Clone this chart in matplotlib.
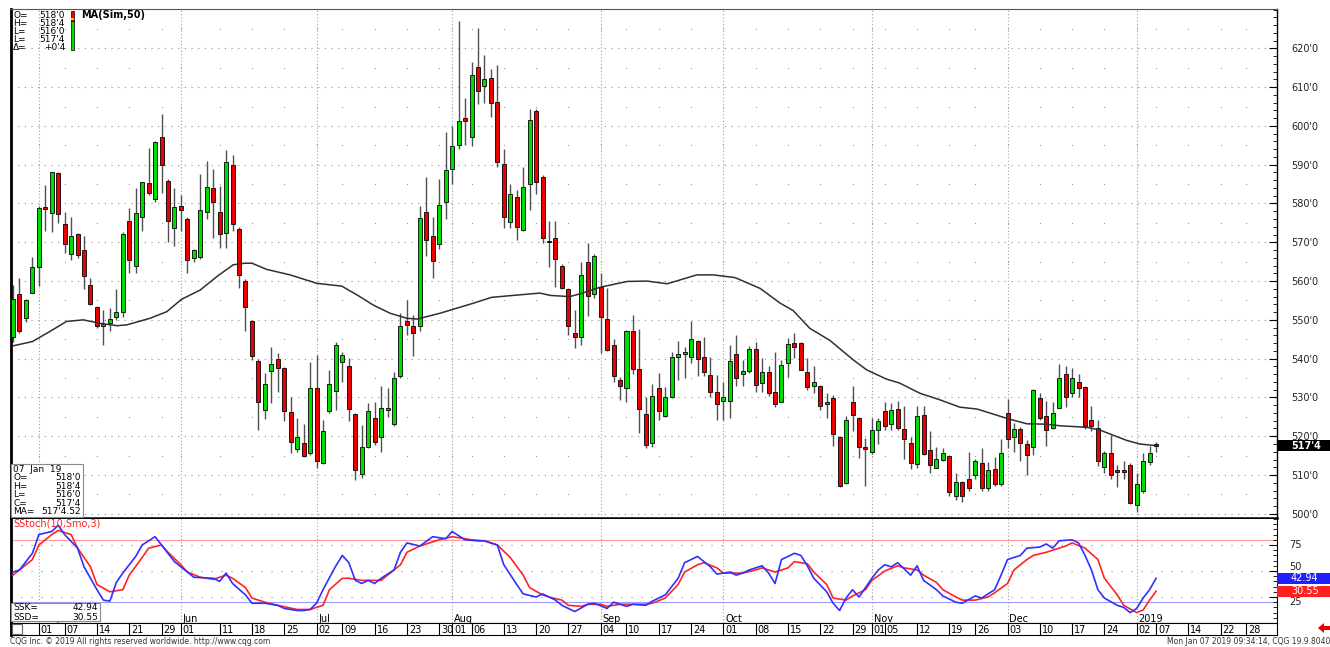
import matplotlib
matplotlib.use("Agg")
import matplotlib.pyplot as plt
from matplotlib.patches import Rectangle, Polygon
from matplotlib.transforms import blended_transform_factory

W, H = 1330, 647

# --- daily OHLC (Apr 25 2018 .. Jan 07 2019), cents/bu ---
opens = [545.7, 556.6, 550.4, 557.0, 563.6, 579.0, 577.6, 587.8, 574.6, 566.9,
         572.1, 568.0, 559.0, 553.2, 548.5, 549.1, 550.8, 552.0, 575.5, 563.9,
         576.4, 585.2, 581.1, 597.2, 585.9, 573.6, 579.4, 576.0, 566.0, 566.1,
         577.7, 583.9, 577.7, 572.3, 589.9, 573.4, 560.1, 549.6, 539.4, 526.8,
         536.7, 539.8, 537.5, 526.2, 516.6, 518.2, 515.6, 532.5, 513.1, 526.4,
         531.7, 539.2, 538.0, 525.7, 510.3, 517.3, 524.6, 519.7, 526.8, 523.1,
         535.4, 549.7, 548.4, 548.4, 577.9, 571.6, 569.5, 580.5, 588.8, 595.1,
         602.0, 597.2, 615.1, 610.2, 612.3, 606.1, 590.2, 575.1, 581.6, 573.2,
         585.0, 603.9, 586.9, 570.0, 571.0, 564.0, 557.9, 546.5, 545.7, 565.0,
         556.7, 558.6, 550.2, 543.4, 534.5, 532.5, 547.1, 537.4, 525.8, 518.2,
         532.5, 525.3, 530.0, 540.4, 541.1, 540.5, 544.6, 540.5, 535.8, 531.3,
         529.1, 529.1, 541.1, 536.0, 536.7, 542.5, 533.7, 536.5, 531.5, 528.9,
         538.8, 544.0, 544.0, 536.5, 532.9, 533.0, 528.3, 529.8, 519.7, 507.9,
         528.8, 524.7, 517.2, 515.9, 521.5, 526.6, 523.1, 527.0, 521.9, 518.2,
         512.8, 525.5, 516.5, 511.9, 513.9, 514.8, 504.5, 508.1, 508.9, 510.0,
         513.0, 506.6, 511.5, 507.7, 526.1, 519.7, 521.8, 518.0, 517.2, 529.8,
         525.1, 522.2, 527.4, 536.0, 531.1, 534.1, 532.8, 524.2, 522.1, 512.0,
         515.7, 511.2, 511.4, 512.5, 502.2, 506.0, 513.4, 518.0]
highs = [559.0, 560.9, 555.5, 566.3, 579.4, 584.8, 588.2, 588.0, 577.7, 576.4,
         572.5, 571.6, 560.7, 553.5, 552.5, 553.0, 557.9, 572.6, 578.9, 583.9,
         585.6, 594.4, 596.0, 603.0, 586.2, 583.9, 582.2, 576.6, 568.3, 587.5,
         591.0, 588.8, 584.5, 593.8, 592.5, 574.0, 560.5, 550.0, 539.8, 536.4,
         543.1, 541.4, 537.8, 530.0, 524.8, 523.1, 539.1, 540.9, 524.3, 537.1,
         544.4, 541.8, 540.1, 526.0, 522.9, 528.6, 528.9, 533.0, 532.5, 536.6,
         551.7, 555.1, 551.2, 579.4, 586.9, 576.6, 586.2, 598.5, 600.0, 627.0,
         607.1, 616.6, 625.2, 618.3, 614.8, 615.7, 594.0, 585.0, 583.5, 589.5,
         604.3, 604.3, 587.3, 575.4, 575.4, 564.3, 558.2, 552.5, 565.0, 569.9,
         566.9, 562.0, 558.3, 545.0, 535.2, 547.3, 551.3, 547.7, 530.0, 533.4,
         536.4, 532.8, 541.8, 544.6, 543.1, 549.6, 544.9, 545.7, 540.5, 535.8,
         534.1, 543.5, 546.1, 539.7, 543.3, 544.4, 540.1, 538.0, 541.6, 539.7,
         545.4, 546.6, 544.3, 540.1, 538.0, 533.3, 531.1, 530.7, 520.0, 525.1,
         533.0, 525.0, 519.5, 524.8, 524.7, 528.9, 528.6, 529.1, 527.7, 519.9,
         527.8, 527.7, 521.4, 517.2, 516.9, 515.2, 510.5, 508.5, 516.0, 514.1,
         517.0, 513.3, 514.6, 519.3, 529.5, 523.3, 522.3, 518.9, 532.1, 531.1,
         529.1, 528.9, 538.7, 538.0, 537.6, 536.0, 533.0, 527.8, 524.2, 516.1,
         520.4, 512.7, 513.7, 513.1, 510.6, 515.7, 517.4, 518.5]
lows = [544.4, 546.5, 549.5, 556.9, 558.8, 573.0, 572.6, 575.0, 567.2, 565.5,
        566.0, 557.9, 553.8, 548.0, 543.4, 547.0, 550.0, 550.8, 562.0, 562.0,
        573.0, 582.2, 580.5, 582.8, 570.0, 569.0, 573.0, 562.0, 565.0, 565.8,
        576.0, 571.2, 568.6, 568.4, 573.0, 558.2, 547.0, 539.7, 521.7, 524.4,
        528.5, 531.5, 524.0, 515.6, 516.0, 514.6, 515.2, 511.7, 512.8, 526.0,
        526.8, 533.9, 523.8, 508.7, 509.2, 516.9, 517.7, 516.0, 525.0, 522.6,
        535.0, 546.1, 540.7, 547.0, 566.5, 560.7, 568.2, 576.0, 585.0, 594.0,
        595.1, 594.7, 605.6, 606.0, 602.2, 589.5, 573.6, 573.6, 570.6, 573.0,
        578.3, 582.5, 569.7, 563.6, 558.6, 558.0, 546.1, 542.7, 543.5, 551.0,
        555.6, 541.4, 542.0, 533.9, 529.4, 528.9, 536.1, 520.8, 517.0, 517.3,
        524.2, 525.0, 529.8, 534.5, 535.0, 539.0, 535.5, 535.5, 530.0, 524.2,
        524.2, 524.8, 533.0, 533.0, 536.2, 531.3, 531.3, 530.4, 527.5, 528.7,
        535.2, 540.1, 537.0, 531.9, 531.1, 526.8, 524.8, 517.6, 507.0, 507.6,
        521.3, 514.4, 507.2, 515.3, 518.0, 521.6, 521.6, 521.6, 514.1, 511.5,
        511.8, 515.2, 510.4, 511.8, 513.5, 504.5, 503.5, 503.0, 505.8, 508.9,
        505.8, 505.8, 507.2, 507.2, 517.0, 516.0, 513.6, 510.0, 515.2, 524.2,
        517.5, 521.8, 527.3, 527.6, 530.0, 530.0, 521.8, 521.3, 512.2, 510.6,
        508.9, 506.9, 509.1, 502.6, 500.5, 505.4, 512.7, 516.0]
closes = [555.3, 547.0, 555.0, 563.6, 578.8, 578.6, 588.2, 577.2, 569.5, 571.6,
          566.6, 561.2, 554.0, 548.4, 549.0, 550.3, 552.1, 572.1, 565.4, 577.5,
          585.5, 582.8, 595.8, 589.8, 575.5, 579.2, 578.3, 565.4, 568.0, 578.3,
          584.2, 580.5, 572.1, 590.8, 574.7, 561.6, 553.4, 540.6, 528.8, 533.5,
          538.6, 537.5, 526.6, 518.6, 519.7, 515.0, 532.5, 513.5, 521.3, 533.4,
          543.5, 541.0, 527.0, 511.3, 517.3, 526.6, 518.6, 527.4, 527.2, 534.9,
          548.4, 548.7, 546.5, 576.2, 570.6, 565.2, 579.7, 588.6, 594.9, 601.3,
          601.3, 613.1, 609.0, 612.1, 606.0, 590.8, 576.4, 582.4, 574.0, 584.3,
          601.5, 585.6, 571.0, 570.2, 565.6, 558.3, 548.3, 545.7, 561.6, 556.2,
          566.5, 550.8, 542.2, 535.4, 533.0, 547.1, 537.3, 527.0, 517.8, 530.4,
          526.4, 530.0, 540.5, 541.1, 541.6, 545.1, 540.0, 536.5, 531.3, 528.3,
          530.0, 539.4, 535.0, 536.9, 542.4, 533.1, 536.5, 531.1, 528.3, 538.4,
          543.9, 543.1, 537.1, 532.8, 534.1, 527.9, 528.8, 520.6, 507.2, 524.3,
          525.4, 517.1, 516.7, 521.6, 523.8, 522.6, 526.8, 522.1, 519.2, 513.0,
          525.1, 515.4, 512.6, 514.1, 515.6, 505.5, 508.3, 504.5, 506.6, 513.5,
          506.6, 511.2, 507.7, 515.6, 519.2, 521.8, 518.2, 515.2, 531.9, 524.6,
          521.6, 526.1, 535.0, 530.1, 535.0, 532.4, 522.7, 522.7, 513.5, 515.7,
          510.0, 510.7, 510.8, 502.7, 507.8, 513.7, 515.7, 517.5]

# 50 day simple moving average, sampled along the bar index
ma_idx = [0, 3, 5.7, 8.3, 10.9, 13.5, 16.1, 17.6, 21.2, 23.8,
          26.1, 29, 31.6, 34.1, 35.9, 37, 39.3, 42.9, 47.1, 50.9,
          53.3, 55.8, 58.4, 61, 62.6, 66.1, 71.3, 74.1, 77.4, 81.6,
          83.2, 86.2, 87.8, 90.9, 95.1, 98.2, 101.3, 105.9, 108.4, 111.8,
          115.7, 118.8, 120.8, 123.4, 126.5, 130.1, 132.2, 135.3, 137.3, 140.4,
          143.5, 146.6, 149.3, 151.8, 153.9, 157, 160.1, 162.1, 166.3, 168.3,
          170.3, 172.5, 174.5, 177]
ma_val = [543.3, 544.4, 547.0, 549.6, 550.0, 549.1, 548.5, 548.7, 550.4, 552.1,
          555.3, 557.7, 561.2, 564.2, 564.6, 564.6, 563.0, 561.6, 559.4, 558.7,
          556.4, 553.8, 551.7, 550.4, 550.2, 551.7, 554.3, 555.8, 556.3, 556.9,
          556.3, 556.0, 556.7, 558.4, 559.9, 560.0, 559.3, 561.6, 561.6, 560.9,
          558.1, 554.3, 552.4, 547.8, 544.7, 539.7, 537.1, 534.7, 533.7, 531.1,
          529.4, 527.5, 527.0, 525.7, 524.6, 523.2, 523.1, 522.7, 522.3, 521.6,
          520.3, 518.9, 518.0, 517.56]

# smoothed stochastic (10, Smo, 3): SSK blue, SSD red
ssk_idx = [0, 1, 3, 4, 6, 7, 8, 10, 11, 13, 14, 15, 16, 17, 19, 20, 22, 23, 25, 27,
           28, 31, 32, 33, 34, 36, 37, 39, 41, 42, 44, 45, 46, 47, 48, 50, 51, 52, 53, 54,
           55, 56, 57, 59, 60, 61, 63, 65, 67, 68, 70, 72, 73, 75, 76, 78, 79, 81, 82, 84,
           85, 87, 89, 90, 92, 93, 95, 96, 98, 99, 101, 103, 104, 106, 107, 108, 109, 111, 112, 113,
           114, 116, 117, 118, 119, 121, 122, 123, 124, 126, 127, 128, 129, 130, 131, 133, 134, 135, 136, 137,
           139, 140, 141, 143, 144, 146, 147, 149, 150, 152, 153, 154, 156, 157, 159, 160, 161, 162, 164, 165,
           166, 167, 168, 169, 171, 172, 173, 174, 175, 176, 177]
ssk_val = [49, 51, 67, 85, 88, 94, 85, 72, 54, 32, 22, 21, 39, 48, 64, 75, 83, 75, 59, 49,
           44, 43, 40, 48, 38, 27, 19, 19, 17, 14, 12, 12, 13, 19, 32, 55, 65, 58, 41, 38,
           41, 38, 43, 51, 68, 77, 74, 83, 81, 88, 80, 79, 79, 75, 56, 37, 28, 25, 28, 22,
           17, 11, 18, 19, 14, 20, 16, 18, 17, 21, 27, 43, 58, 64, 59, 54, 47, 49, 46, 48,
           51, 55, 48, 38, 61, 67, 65, 55, 43, 30, 19, 12, 24, 32, 25, 43, 51, 56, 54, 58,
           46, 55, 41, 32, 26, 20, 19, 26, 24, 32, 46, 61, 65, 72, 73, 76, 72, 79, 80, 77,
           65, 51, 32, 24, 17, 15, 10, 14, 24, 32, 42.94]
ssd_idx = [0, 1, 3, 4, 6, 7, 9, 10, 12, 13, 15, 17, 18, 20, 21, 23, 24, 26, 27, 29,
           31, 33, 34, 36, 37, 39, 41, 44, 46, 48, 49, 51, 52, 54, 55, 57, 58, 60, 61, 63,
           65, 66, 68, 69, 71, 73, 75, 77, 79, 80, 82, 83, 85, 86, 88, 89, 91, 92, 94, 96,
           98, 99, 101, 103, 104, 106, 107, 109, 110, 113, 115, 116, 118, 120, 121, 123, 124, 126, 127, 129,
           130, 132, 133, 135, 137, 138, 140, 141, 143, 144, 146, 147, 149, 151, 152, 154, 155, 157, 158, 160,
           161, 163, 164, 166, 168, 169, 171, 172, 174, 175, 176, 177]
ssd_val = [46, 51, 61, 75, 85, 89, 85, 72, 54, 37, 30, 32, 46, 63, 72, 75, 68, 56, 49, 44,
           42, 46, 43, 34, 24, 20, 17, 13, 13, 17, 32, 43, 43, 41, 41, 41, 46, 56, 68, 74,
           78, 80, 83, 82, 80, 79, 75, 63, 46, 34, 27, 25, 22, 17, 16, 18, 18, 16, 18, 18,
           18, 19, 24, 37, 49, 56, 58, 53, 48, 48, 51, 53, 49, 53, 59, 57, 49, 37, 24, 22,
           26, 32, 41, 50, 55, 53, 51, 46, 39, 32, 25, 22, 22, 25, 29, 38, 51, 61, 65, 68,
           70, 74, 77, 72, 61, 43, 27, 17, 10, 12.5, 22, 30.55]

# date axis: bar index of each labelled day, and of each month start
day_ticks = [4, 8, 13, 18, 23, 26, 32, 37, 42, 47, 51, 56, 61, 66, 68, 71, 76, 81, 86, 91,
             95, 100, 105, 110, 115, 120, 125, 130, 133, 135, 140, 145, 149, 154, 159, 164, 169, 174, 177, 182,
             187, 191]
day_labels = ['01', '07', '14', '21', '29', '01', '11', '18', '25', '02', '09', '16', '23', '30', '01', '06', '13', '20', '27', '04',
              '10', '17', '24', '01', '08', '15', '22', '29', '01', '05', '12', '19', '26', '03', '10', '17', '24', '02', '07', '14',
              '22', '28']
month_ticks = [4, 26, 47, 68, 91, 110, 133, 154, 174]
month_labels = ['May', 'Jun', 'Jul', 'Aug', 'Sep', 'Oct', 'Nov', 'Dec', '2019']
price_ticks = list(range(500, 630, 10))
stoch_ticks = [25, 50, 75]


def px_box(x0, y0, x1, y1):
    # axes rectangle from pixel corners, origin top-left
    return [x0 / W, 1 - y1 / H, (x1 - x0) / W, (y1 - y0) / H]


def fx(x):
    return x / W


def fy(y):
    return 1 - y / H


XMIN, XMAX = -0.31, 195.73
GREEN, RED = '#00dc00', '#ee0000'
GRID = '#8f8f8f'

fig = plt.figure(figsize=(W / 100, H / 100), dpi=100)
fig.patch.set_facecolor('white')

# ---------------- price panel ----------------
ax = fig.add_axes(px_box(11, 9, 1277, 518))
ax.set_xlim(XMIN, XMAX)
ax.set_ylim(498.92, 630.14)

for p in price_ticks:
    ax.axhline(p, color=GRID, lw=0.8, ls=(0, (1, 5)), zorder=0)
wk = [t for t in day_ticks if t < XMAX]
half = [p + 5 for p in price_ticks]
ax.scatter([t for t in wk for p in half], [p for t in wk for p in half],
           s=0.8, color='#9a9a9a', linewidths=0, zorder=0)
for m in month_ticks:
    ax.axvline(m, color='#a0a0a0', lw=0.8, ls=(0, (1, 2)), zorder=0)

n = len(opens)
xs = list(range(n))
colors = [GREEN if c >= o else RED for o, c in zip(opens, closes)]
bottoms = [min(o, c) for o, c in zip(opens, closes)]
heights = [max(abs(c - o), 0.35) for o, c in zip(opens, closes)]
ax.vlines(xs, lows, highs, color='#505050', lw=1.0, zorder=2)
ax.bar(xs, heights, bottom=bottoms, width=0.62, color=colors,
       edgecolor='black', linewidth=0.6, zorder=3)
ax.plot(ma_idx, ma_val, color='#303030', lw=1.1, zorder=4)

ax.yaxis.tick_right()
ax.set_yticks(price_ticks)
ax.set_yticklabels([f"{p}'0" for p in price_ticks])
ax.set_yticks(range(500, 631, 2), minor=True)
ax.tick_params(axis='y', which='major', direction='in', length=6, width=0.8,
               labelsize=7, pad=10, labelcolor='#222222')
ax.tick_params(axis='y', which='minor', direction='in', length=3, width=0.6)
ax.set_xticks([])
ax.spines['top'].set_color('#555555')
ax.spines['top'].set_linewidth(0.8)
ax.spines['left'].set_linewidth(2.0)
ax.spines['bottom'].set_linewidth(1.8)
ax.spines['right'].set_linewidth(1.0)

# last price marker on the right scale
tr = blended_transform_factory(ax.transAxes, ax.transData)
last = closes[-1]
ax.add_patch(Rectangle((1.0, last - 1.4), 0.042, 2.8, transform=tr,
                       facecolor='black', edgecolor='none', clip_on=False, zorder=6))
ax.text(1.011, last, "517'4", transform=tr, color='white', fontsize=7,
        fontweight='bold', va='center', ha='left', clip_on=False, zorder=7)

# top-left quote legend
leg_rows = [('O=', "518'0"), ('H=', "518'4"), ('L=', "516'0"), ('L=', "517'4"), ('\u0394=', "+0'4")]
for k, (lab, val) in enumerate(leg_rows):
    y = 15 + k * 8
    fig.text(fx(13), fy(y), lab, fontsize=6.5, va='center', ha='left')
    fig.text(fx(65), fy(y), val, fontsize=6.5, va='center', ha='right')
fig.add_artist(Rectangle((fx(71), fy(50)), 3 / W, 29 / H, transform=fig.transFigure,
                         facecolor=GREEN, edgecolor='black', lw=0.5))
fig.add_artist(Rectangle((fx(71), fy(21)), 3 / W, 10 / H, transform=fig.transFigure,
                         facecolor=RED, edgecolor='black', lw=0.5))
fig.add_artist(Rectangle((fx(71), fy(20)), 3 / W, 2 / H, transform=fig.transFigure,
                         facecolor='#ffd400', edgecolor='none'))
fig.text(fx(81), fy(15), 'MA(Sim,50)', fontsize=7, fontweight='bold', va='center', ha='left')

# bottom-left data box
fig.add_artist(Rectangle((fx(11), fy(517)), 72 / W, 53 / H, transform=fig.transFigure,
                         facecolor='white', edgecolor='#8a8a8a', lw=0.8, zorder=8))
info_rows = [('07  Jan  19', ''), ('O=', "518'0"), ('H=', "518'4"), ('L=', "516'0"),
             ('C=', "517'4"), ('MA=', "517'4.52")]
for k, (lab, val) in enumerate(info_rows):
    y = 469 + k * 8.6
    fig.text(fx(13), fy(y), lab, fontsize=6.5, va='center', ha='left', zorder=9)
    if val:
        fig.text(fx(81), fy(y), val, fontsize=6.5, va='center', ha='right', zorder=9)

# ---------------- stochastic panel ----------------
sx = fig.add_axes(px_box(11, 519, 1277, 623))
sx.set_xlim(XMIN, XMAX)
sx.set_ylim(0, 100)
for lv in stoch_ticks:
    sx.axhline(lv, color=GRID, lw=0.8, ls=(0, (1, 8)), zorder=0)
for m in month_ticks:
    sx.axvline(m, color='#a0a0a0', lw=0.8, ls=(0, (1, 2)), zorder=0)
sx.axhline(80, color='#ff9a9a', lw=0.8, zorder=1)
sx.axhline(20, color='#9a9aff', lw=0.8, zorder=1)
sx.plot(ssd_idx, ssd_val, color='#ff2424', lw=1.2, zorder=3)
sx.plot(ssk_idx, ssk_val, color='#3030ff', lw=1.2, zorder=4)

sx.yaxis.tick_right()
sx.set_yticks(stoch_ticks)
sx.set_yticklabels([])
sx.set_yticks(range(0, 101, 5), minor=True)
sx.tick_params(axis='y', which='major', direction='in', length=6, width=0.8)
sx.tick_params(axis='y', which='minor', direction='in', length=3, width=0.6)
sx.set_xticks([])
sx.spines['left'].set_linewidth(2.0)
sx.spines['top'].set_visible(False)

st = blended_transform_factory(sx.transAxes, sx.transData)
# scale labels sit just clear of the two value boxes, as in the original
for v, yoff in zip(stoch_ticks, [-5.0, 4.0, 0.0]):
    sx.text(1.0095, v + yoff, str(v), transform=st, fontsize=7, color='#222222',
            va='center', ha='left', clip_on=False)

for m, lab in zip(month_ticks, month_labels):
    sx.text(m + 0.3, 4, lab, fontsize=7, va='center', ha='left', zorder=5)

for v, col, txt in [(ssk_val[-1], '#2020ff', '42.94'), (ssd_val[-1], '#ff2020', '30.55')]:
    sx.add_patch(Rectangle((1.0, v - 5.2), 0.042, 10.4, transform=st,
                           facecolor=col, edgecolor='none', clip_on=False, zorder=6))
    sx.text(1.011, v, txt, transform=st, color='white', fontsize=7,
            va='center', ha='left', clip_on=False, zorder=7)

fig.text(fx(13), fy(524), 'SStoch(10,Smo,3)', fontsize=7, color='#ff2020', va='center', ha='left')
fig.add_artist(Rectangle((fx(11), fy(621)), 89 / W, 18 / H, transform=fig.transFigure,
                         facecolor='white', edgecolor='#8a8a8a', lw=0.8, zorder=8))
fig.text(fx(13), fy(608), 'SSK=', fontsize=6.5, va='center', ha='left', zorder=9)
fig.text(fx(98), fy(608), '42.94', fontsize=6.5, va='center', ha='right', zorder=9)
fig.text(fx(13), fy(617), 'SSD=', fontsize=6.5, va='center', ha='left', zorder=9)
fig.text(fx(98), fy(617), '30.55', fontsize=6.5, va='center', ha='right', zorder=9)

# ---------------- date strip ----------------
dx = fig.add_axes(px_box(11, 623, 1277, 635))
dx.set_xlim(XMIN, XMAX)
dx.set_ylim(0, 1)
dx.vlines(day_ticks, 0, 1, color='black', lw=0.8)
for t, lab in zip(day_ticks, day_labels):
    dx.text(t + 0.3, 0.45, lab, fontsize=7, va='center', ha='left')
dx.set_xticks([])
dx.set_yticks([])
dx.spines['left'].set_linewidth(2.0)
fig.add_artist(Rectangle((fx(12), fy(634)), 10 / W, 10 / H, transform=fig.transFigure,
                         facecolor='white', edgecolor='#666666', lw=0.8))

# ---------------- footer ----------------
fig.text(fx(10), fy(642), 'CQG Inc. \u00a9 2019 All rights reserved worldwide. http://www.cqg.com',
         fontsize=5.5, color='#333333', va='center', ha='left')
fig.text(fx(1330), fy(642), 'Mon Jan 07 2019 09:34:14, CQG 19.9.8040',
         fontsize=5.5, color='#333333', va='center', ha='right')
arrow = [(1318, 628), (1324, 623), (1324, 626), (1330, 626), (1330, 630), (1324, 630), (1324, 633)]
fig.add_artist(Polygon([(fx(x), fy(y)) for x, y in arrow], closed=True,
                       transform=fig.transFigure, facecolor='#ee0000', edgecolor='none'))

fig.savefig('out.png', dpi=100, facecolor='white')
